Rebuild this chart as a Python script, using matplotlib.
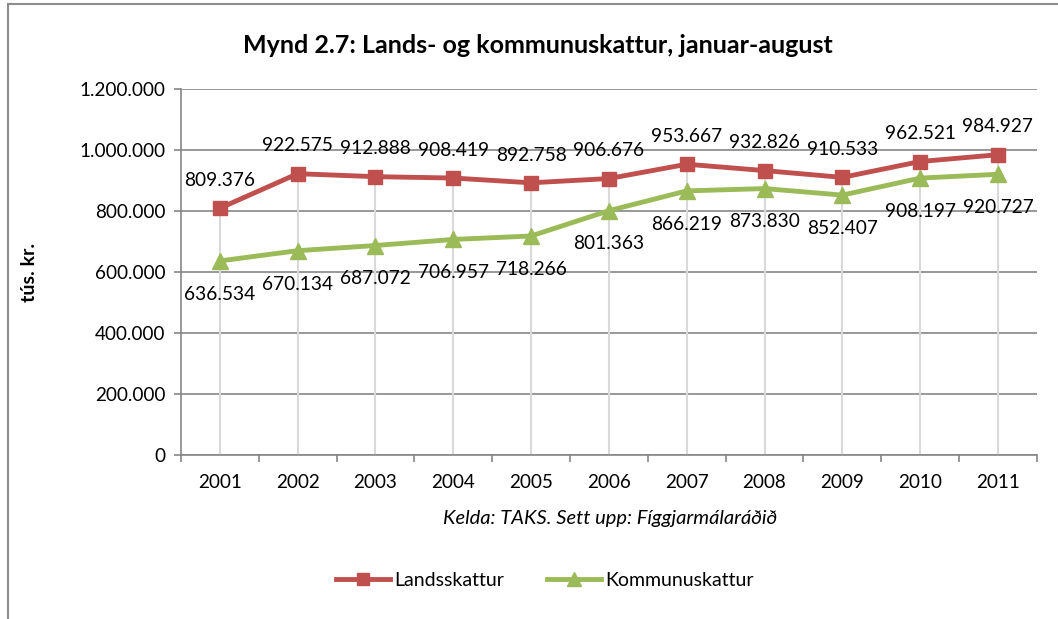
import matplotlib.pyplot as plt
from matplotlib.lines import Line2D
from matplotlib.ticker import FuncFormatter

plt.rcParams['font.family'] = ['Lato', 'DejaVu Sans']

years = ['2001', '2002', '2003', '2004', '2005', '2006', '2007', '2008', '2009', '2010', '2011']
landsskattur = [809376, 922575, 912888, 908419, 892758, 906676, 953667, 932826, 910533, 962521, 984927]
kommunuskattur = [636534, 670134, 687072, 706957, 718266, 801363, 866219, 873830, 852407, 908197, 920727]

red = '#c0504d'
green = '#9bbb59'
axcol = '#868686'


def dotted(v):
    return '{:,.0f}'.format(v).replace(',', '.')


fig = plt.figure(figsize=(10.58, 6.19), dpi=100)
ax = fig.add_axes([0.171, 0.265, 0.809, 0.591])

x = list(range(len(years)))

# drop lines from the top series down to the axis
for i in x:
    ax.plot([i, i], [0, max(landsskattur[i], kommunuskattur[i])], color='#d9d9d9', lw=1.5, zorder=1)

ax.plot(x, landsskattur, color=red, lw=3.5, marker='s', ms=10, zorder=3)
ax.plot(x, kommunuskattur, color=green, lw=3.5, marker='^', ms=11, zorder=3)

for i in x:
    ax.annotate(dotted(landsskattur[i]), (i, landsskattur[i]), xytext=(0, 20), textcoords='offset points',
                ha='center', va='center', fontsize=13.8)
    ax.annotate(dotted(kommunuskattur[i]), (i, kommunuskattur[i]), xytext=(0, -24), textcoords='offset points',
                ha='center', va='center', fontsize=13.8)

ax.set_xlim(-0.5, len(years) - 0.5)
ax.set_ylim(0, 1200000)
ax.set_yticks(range(0, 1200001, 200000))
ax.yaxis.set_major_formatter(FuncFormatter(lambda v, p: dotted(v)))
ax.grid(axis='y', color=axcol, lw=1.2, zorder=0)
ax.set_axisbelow(True)

ax.set_xticks(x)
ax.set_xticklabels(years, fontsize=13.6)
ax.set_xticks([i - 0.5 for i in range(len(years) + 1)], minor=True)
ax.tick_params(axis='x', which='major', length=0, pad=14)
ax.tick_params(axis='x', which='minor', length=5, color=axcol, width=1.2)
ax.tick_params(axis='y', labelsize=13.6, length=5, color=axcol, width=1.2, pad=6)

for s in ['top', 'right']:
    ax.spines[s].set_visible(False)
for s in ['left', 'bottom']:
    ax.spines[s].set_color(axcol)
    ax.spines[s].set_linewidth(1.2)

ax.set_ylabel('tús. kr.', fontsize=14, fontweight='bold')
ax.yaxis.set_label_coords(-0.167, 0.5)

fig.text(0.508, 0.927, 'Mynd 2.7: Lands- og kommunuskattur, januar-august', ha='center', va='center',
         fontsize=18, fontweight='bold')
fig.text(0.577, 0.163, 'Kelda: TAKS. Sett upp: Fíggjarmálaráðið', ha='center', va='center',
         fontsize=14.5, style='italic')

handles = [Line2D([], [], color=red, lw=3.5, marker='s', ms=9),
           Line2D([], [], color=green, lw=3.5, marker='^', ms=10)]
fig.legend(handles, ['Landsskattur', 'Kommunuskattur'], loc='center', bbox_to_anchor=(0.515, 0.063),
           ncol=2, frameon=False, fontsize=14, handlelength=2.8, handletextpad=0.2, columnspacing=2.2)

# chart frame (only left and top edges visible)
fig.add_artist(Line2D([0.0075, 0.0075], [0.0, 0.994], color='#8c8c8c', lw=1.5, transform=fig.transFigure))
fig.add_artist(Line2D([0.0075, 1.0], [0.994, 0.994], color='#8c8c8c', lw=1.5, transform=fig.transFigure))

fig.savefig('out.png', dpi=100)
